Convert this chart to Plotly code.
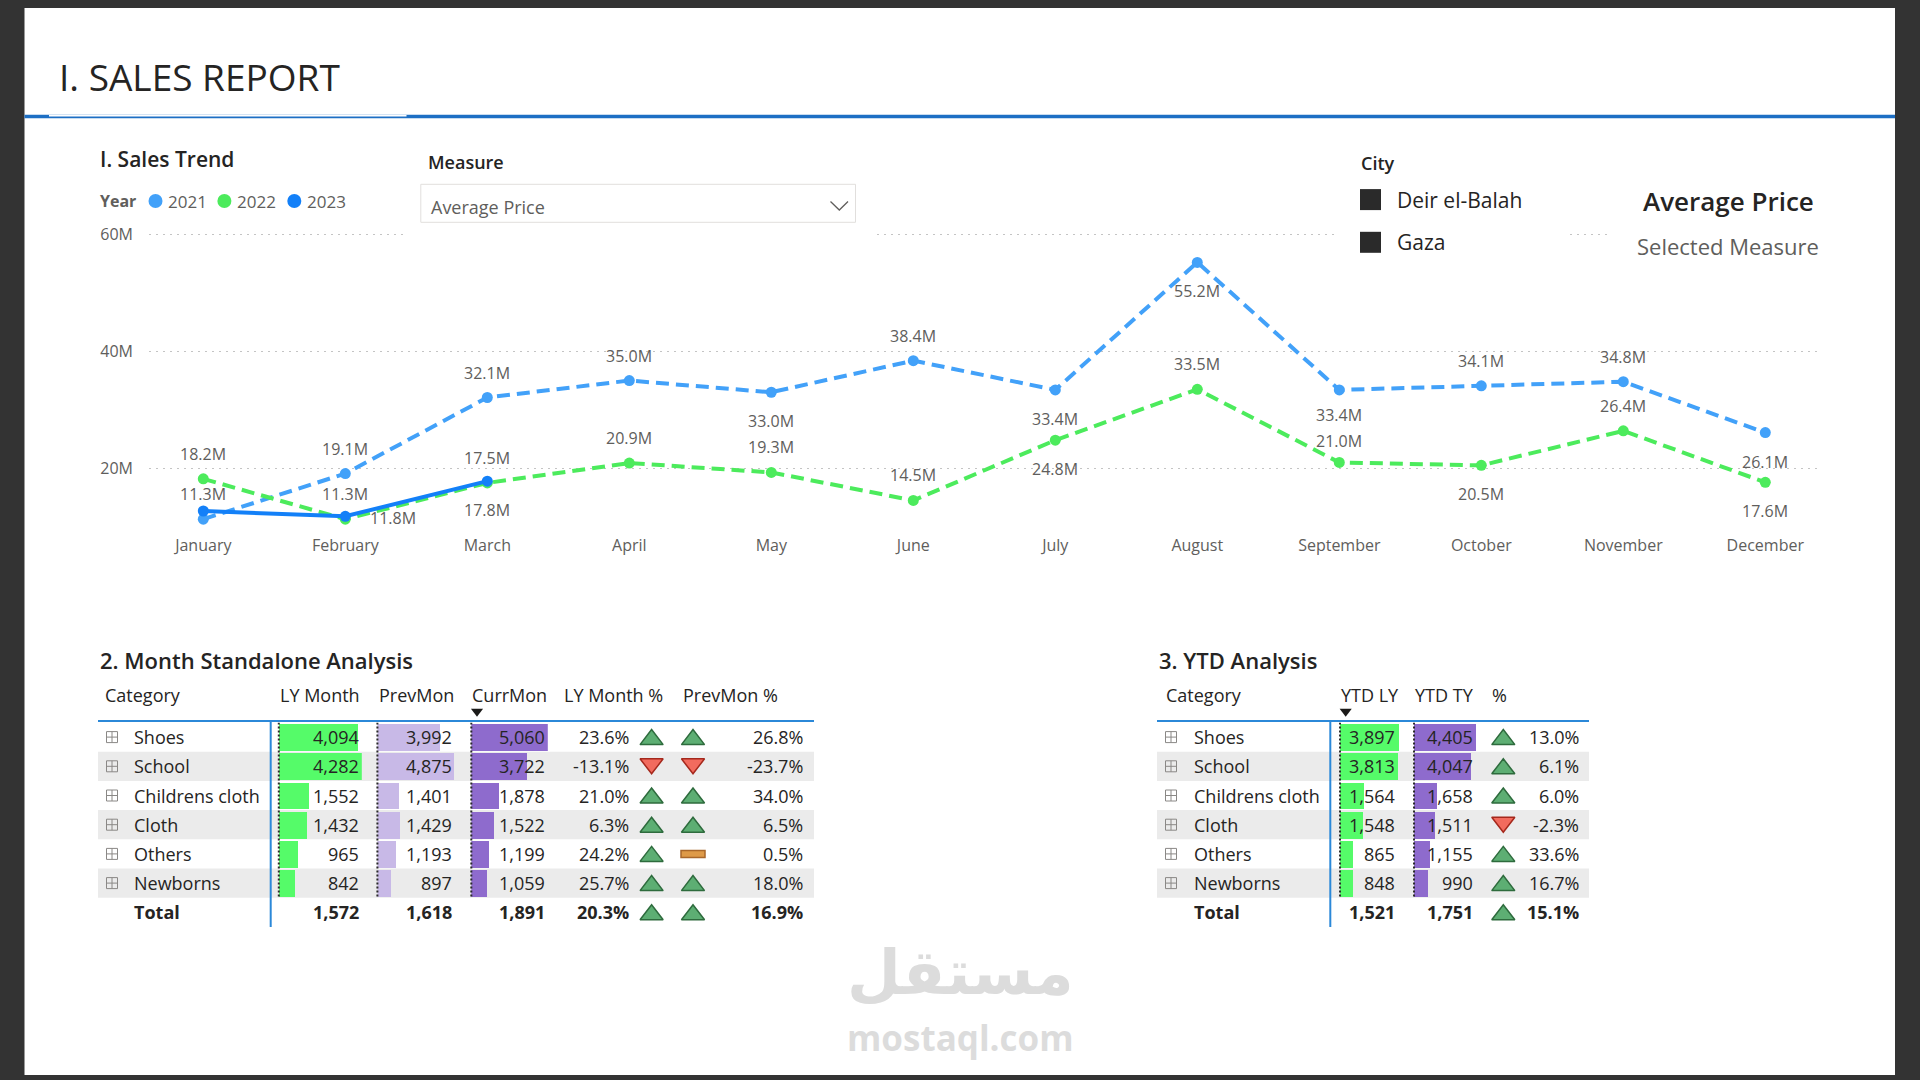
import plotly.graph_objects as go

W, H = 1920, 1080

# ---------------- data ----------------
months = ["January", "February", "March", "April", "May", "June",
          "July", "August", "September", "October", "November", "December"]
years = ["2021", "2022", "2023"]
avg_price_2021 = [11.3, 19.1, 32.1, 35.0, 33.0, 38.4, 33.4, 55.2, 33.4, 34.1, 34.8, 26.1]
avg_price_2022 = [18.2, 11.3, 17.5, 20.9, 19.3, 14.5, 24.8, 33.5, 21.0, 20.5, 26.4, 17.6]
avg_price_2023 = [12.7, 11.8, 17.8]
y_tick_vals = [20, 40, 60]
y_tick_text = ["20M", "40M", "60M"]

cities = ["Deir el-Balah", "Gaza"]
selected_measure = "Average Price"

categories = ["Shoes", "School", "Childrens cloth", "Cloth", "Others", "Newborns"]
ly_month = [4094, 4282, 1552, 1432, 965, 842]
prev_mon = [3992, 4875, 1401, 1429, 1193, 897]
curr_mon = [5060, 3722, 1878, 1522, 1199, 1059]
ly_month_pct = [23.6, -13.1, 21.0, 6.3, 24.2, 25.7]
prev_mon_pct = [26.8, -23.7, 34.0, 6.5, 0.5, 18.0]
ly_month_total = 1572
prev_mon_total = 1618
curr_mon_total = 1891
ly_month_pct_total = 20.3
prev_mon_pct_total = 16.9

ytd_ly = [3897, 3813, 1564, 1548, 865, 848]
ytd_ty = [4405, 4047, 1658, 1511, 1155, 990]
ytd_pct = [13.0, 6.1, 6.0, -2.3, 33.6, 16.7]
ytd_ly_total = 1521
ytd_ty_total = 1751
ytd_pct_total = 15.1

# ---------------- styles ----------------
FONT = "Open Sans"
DARK = "#252423"
GRAY = "#605E5C"
C21, C22, C23 = "#42A1F9", "#4CEB5C", "#1380F8"
GREEN_BAR, LPURP_BAR, PURP_BAR = "#55FB69", "#C8B9E7", "#8E6BCD"
BAND = "#EBEBEB"
BLUE_LINE = "#2B88D8"

# label placement: t = above, b = below, r = right
label_pos_2021 = ["t", "t", "t", "t", "b", "t", "b", "b", "b", "t", "t", "b"]
label_pos_2022 = ["t", "t", "t", "t", "t", "t", "b", "t", "t", "b", "t", "b"]
label_pos_2023 = [None, "r", "b"]
LABEL_SHIFT = {"t": (0, 25), "b": (0, -29), "r": (48, -2)}


def fx(px):
    return px / W


def fy(py):
    return 1 - py / H


# chart pixel mapping (layout)
CH_X0, CH_X1, CH_TOP, CH_BOT = 149, 1818, 200, 530
X_FIRST, X_STEP = 203.3, 142.0
Y_ZERO, Y_PER_M = 585.3, 5.85


def cx(px):
    return (px - X_FIRST) / X_STEP


def cy(py):
    return (Y_ZERO - py) / Y_PER_M


# table layout
ROW_TOP, ROW_H = 722.5, 29.2
N_ROWS = 7

fig = go.Figure()
annotations = []
shapes = []


def text(px, py, s, size, color=DARK, anchor="left", weight=None, family=FONT):
    f = dict(size=size, color=color, family=family)
    if weight:
        f["weight"] = weight
    annotations.append(dict(x=fx(px), y=fy(py), xref="paper", yref="paper", text=s,
                            showarrow=False, xanchor=anchor, yanchor="middle", font=f))


def cell(px, row, s, anchor="right", bold=False, size=18, color=DARK):
    f = dict(size=size, color=color, family=FONT)
    if bold:
        f["weight"] = "bold"
    annotations.append(dict(x=fx(px), y=row, xref="paper", yref="y2", text=s,
                            showarrow=False, xanchor=anchor, yanchor="middle", font=f))


def rect(x0, y0, x1, y1, fill, line=None, lw=0, layer="below"):
    shapes.append(dict(type="rect", xref="paper", yref="paper", x0=fx(x0), x1=fx(x1),
                       y0=fy(y1), y1=fy(y0), fillcolor=fill,
                       line=dict(width=lw, color=line or fill), layer=layer))


def hline(x0, x1, y, color, w, layer="above", dash="solid"):
    shapes.append(dict(type="line", xref="paper", yref="paper", x0=fx(x0), x1=fx(x1),
                       y0=fy(y), y1=fy(y), line=dict(color=color, width=w, dash=dash), layer=layer))


def vline(x, y0, y1, color, w, layer="above", dash="solid"):
    shapes.append(dict(type="line", xref="paper", yref="paper", x0=fx(x), x1=fx(x),
                       y0=fy(y0), y1=fy(y1), line=dict(color=color, width=w, dash=dash), layer=layer))


# ---------------- background / header ----------------
rect(24.5, 8, 1895, 1075, "#FFFFFF")
rect(24.5, 114.7, 1895, 118.2, "#1D6FC4", layer="above")
rect(49, 114.7, 406.5, 116.6, "#FFFFFF", layer="above")
text(57, 76, "I. SALES REPORT", 37, DARK)

# ---------------- line chart ----------------
series = [(years[0], avg_price_2021, C21, "13px,7px", label_pos_2021),
          (years[1], avg_price_2022, C22, "13px,7px", label_pos_2022),
          (years[2], avg_price_2023, C23, "solid", label_pos_2023)]
for name, vals, col, dash, pos in series:
    fig.add_trace(go.Scatter(x=months[:len(vals)], y=vals, mode="lines+markers", name=name,
                             line=dict(color=col, width=4, dash=dash),
                             marker=dict(size=11, color=col),
                             xaxis="x", yaxis="y", hoverinfo="skip", cliponaxis=False))
    for i, (v, p) in enumerate(zip(vals, pos)):
        if p is None:
            continue
        dx, dy = LABEL_SHIFT[p]
        # September: the two labels sit stacked tightly between the lines
        if months[i] == "September":
            dy = dy + (-4 if p == "t" else 4)
        annotations.append(dict(x=months[i], y=v, xref="x", yref="y", text=f"{v:.1f}M",
                                showarrow=False, xshift=dx, yshift=dy, borderpad=0,
                                font=dict(size=16, color=GRAY, family=FONT)))

# masks hiding the gridline behind slicers/card (between gridlines and traces)
for (mx0, mx1) in [(403, 872), (1338, 1566), (1608, 1845)]:
    shapes.append(dict(type="rect", xref="x", yref="y", x0=cx(mx0), x1=cx(mx1),
                       y0=cy(250), y1=cy(150), fillcolor="#FFFFFF",
                       line=dict(width=0), layer="between"))

text(98, 159, "I. Sales Trend", 21, DARK, weight=600)
text(98, 201, "Year", 16, GRAY, weight="bold")
legend_dot_x = [155.5, 224.4, 294.3]
for yr, col, dxp in zip(years, [C21, C22, C23], legend_dot_x):
    fig.add_trace(go.Scatter(x=[dxp], y=[201], mode="markers", marker=dict(size=14, color=col),
                             xaxis="x8", yaxis="y8", hoverinfo="skip", cliponaxis=False))
    text(dxp + 10.5, 201, yr, 17, GRAY)

# Measure slicer
text(426, 162, "Measure", 18, DARK, weight=600)
rect(420.8, 184.3, 855.5, 222.3, "#FFFFFF", line="#E1DFDD", lw=1, layer="above")
text(428.5, 206.5, selected_measure, 18, GRAY)
shapes.append(dict(type="path", xref="paper", yref="paper",
                   path=f"M {fx(830.5)} {fy(201.5)} L {fx(839.3)} {fy(210)} L {fx(848)} {fy(201.5)}",
                   line=dict(color=GRAY, width=1.3), layer="above"))

# City slicer
text(1359, 162.7, "City", 18, DARK, weight=600)
for i, c in enumerate(cities):
    yy = 199.6 + i * 42.7
    fig.add_trace(go.Scatter(x=[1370.5], y=[yy], mode="markers",
                             marker=dict(size=21, symbol="square", color="#2A2A2A"),
                             xaxis="x8", yaxis="y8", hoverinfo="skip", cliponaxis=False))
    text(1394.5, yy, c, 21, DARK)

# Card
text(1728, 200.7, selected_measure, 26, DARK, anchor="center", weight=600)
text(1728, 246, "Selected Measure", 22, GRAY, anchor="center")

# ---------------- tables ----------------
# bands
for r in (1, 3, 5):
    for (bx0, bx1) in [(98, 814), (1157, 1589)]:
        shapes.append(dict(type="rect", xref="paper", yref="y2", x0=fx(bx0), x1=fx(bx1),
                           y0=r - 0.5, y1=r + 0.5, fillcolor=BAND, line=dict(width=0), layer="below"))

# header lines
hline(98, 814, 721, BLUE_LINE, 2)
hline(1157, 1589, 721, BLUE_LINE, 2)
vline(270.7, 721, 927, BLUE_LINE, 2)
vline(1330.3, 721, 927, BLUE_LINE, 2)

text(98, 660, "2. Month Standalone Analysis", 22, DARK, weight=600)
text(1157, 660, "3. YTD Analysis", 22, DARK, weight=600)

t1_headers = [("Category", 103), ("LY Month", 278), ("PrevMon", 376.5), ("CurrMon", 470),
              ("LY Month %", 561.5), ("PrevMon %", 680.5)]
t2_headers = [("Category", 1164), ("YTD LY", 1338.5), ("YTD TY", 1412.5), ("%", 1489.5)]
for h, px in t1_headers + t2_headers:
    text(px, 695, h, 18, DARK)

# sort arrows
fig.add_trace(go.Scatter(x=[477, 1345.7], y=[711.5, 711.5], mode="markers",
                         marker=dict(size=10.5, symbol="triangle-down", color="#1B1A19"),
                         xaxis="x8", yaxis="y8", hoverinfo="skip", cliponaxis=False))

# plus icons and category labels
rows = list(range(len(categories)))
fig.add_trace(go.Scatter(x=[112] * len(rows) + [1171] * len(rows), y=rows + rows, mode="markers",
                         marker=dict(size=11, symbol="square-cross-open", color="#8A8886",
                                     line=dict(width=1)),
                         xaxis="x7", yaxis="y2", hoverinfo="skip", cliponaxis=False))
for r, c in enumerate(categories):
    cell(131.5, r, c, anchor="left")
    cell(1191.5, r, c, anchor="left")
cell(131.5, 6, "Total", anchor="left", bold=True)
cell(1191.5, 6, "Total", anchor="left", bold=True)

# data bars (own axes)
bar_cols = [
    ("x2", ly_month, ly_month_total, GREEN_BAR, 278.8, 83.0, 361.3),
    ("x3", prev_mon, prev_mon_total, LPURP_BAR, 377.4, 77.4, 454.3),
    ("x4", curr_mon, curr_mon_total, PURP_BAR, 471.3, 76.5, 546.8),
    ("x5", ytd_ly, ytd_ly_total, GREEN_BAR, 1340.0, 59.0, 1397.3),
    ("x6", ytd_ty, ytd_ty_total, PURP_BAR, 1414.0, 62.0, 1475.0),
]
axis_layout = {}
for ax, vals, tot, col, x0, wpx, tx in bar_cols:
    fig.add_trace(go.Bar(x=vals, y=list(range(len(vals))), orientation="h", width=0.92,
                         marker=dict(color=col, line=dict(width=0)),
                         xaxis=ax, yaxis="y2", hoverinfo="skip"))
    axis_layout["xaxis" + ax[1:]] = dict(domain=[fx(x0), fx(x0 + wpx)], range=[0, max(vals)],
                                         visible=False, anchor="y2", fixedrange=True)
    shapes.append(dict(type="line", xref="paper", yref="y2", x0=fx(x0), x1=fx(x0),
                       y0=-0.5, y1=len(vals) - 0.5, line=dict(color="#2B2B2B", width=2, dash="2px,2px"),
                       layer="above"))
    for r, v in enumerate(vals):
        cell(tx, r, f"{v:,}")
    cell(tx, 6, f"{tot:,}", bold=True)

# percentage columns with KPI icons
pct_cols = [
    (ly_month_pct, ly_month_pct_total, 631.3, 651.6),
    (prev_mon_pct, prev_mon_pct_total, 805.0, 693.0),
    (ytd_pct, ytd_pct_total, 1580.7, 1503.3),
]
up_x, up_y, dn_x, dn_y = [], [], [], []
for pcts, tot, tx, icx in pct_cols:
    allp = pcts + [tot]
    for r, p in enumerate(allp):
        cell(tx, r, f"{p:.1f}%", bold=(r == len(pcts)))
        if p >= 1:
            up_x.append(icx)
            up_y.append(r + 2.5 / ROW_H)
        elif p <= -1:
            dn_x.append(icx)
            dn_y.append(r - 2.5 / ROW_H)
        else:
            shapes.append(dict(type="rect", xref="paper", yref="y2", x0=fx(icx - 12), x1=fx(icx + 12),
                               y0=r - 3.5 / ROW_H, y1=r + 3.5 / ROW_H, fillcolor="#DE9A48",
                               line=dict(color="#A9672A", width=1.5), layer="above"))
fig.add_trace(go.Scatter(x=up_x, y=up_y, mode="markers",
                         marker=dict(size=20, symbol="triangle-up", color="#5DAE73",
                                     line=dict(color="#2E6B3D", width=1.5)),
                         xaxis="x7", yaxis="y2", hoverinfo="skip", cliponaxis=False))
fig.add_trace(go.Scatter(x=dn_x, y=dn_y, mode="markers",
                         marker=dict(size=20, symbol="triangle-down", color="#F26B5E",
                                     line=dict(color="#A5281C", width=1.5)),
                         xaxis="x7", yaxis="y2", hoverinfo="skip", cliponaxis=False))

# watermark
text(960, 972, "مستقل", 62, "#DCDCDC", anchor="center", weight="bold", family="DejaVu Sans")
text(960, 1037, "mostaql.com", 35, "#DCDCDC", anchor="center", weight="bold")

# ---------------- layout ----------------
layout = dict(
    width=W, height=H, margin=dict(l=0, r=0, t=0, b=0, pad=0),
    paper_bgcolor="#333333", plot_bgcolor="rgba(0,0,0,0)",
    font=dict(family=FONT, color=DARK), showlegend=False, bargap=0,
    xaxis=dict(domain=[fx(CH_X0), fx(CH_X1)], type="category", categoryorder="array",
               categoryarray=months, range=[cx(CH_X0), cx(CH_X1)], showgrid=False,
               zeroline=False, showline=False, ticks="", tickfont=dict(size=16, color=GRAY),
               ticklabelstandoff=4, anchor="y", fixedrange=True),
    yaxis=dict(domain=[fy(CH_BOT), fy(CH_TOP)], range=[cy(CH_BOT), cy(CH_TOP)],
               tickvals=y_tick_vals, ticktext=y_tick_text, showgrid=True, gridcolor="#C4C4C4",
               griddash="2px,5px", gridwidth=1.3, zeroline=False, showline=False, ticks="",
               tickfont=dict(size=16, color=GRAY), ticklabelstandoff=15, anchor="x", fixedrange=True),
    yaxis2=dict(domain=[fy(ROW_TOP + N_ROWS * ROW_H), fy(ROW_TOP)], range=[N_ROWS - 0.5, -0.5],
                visible=False, anchor="x7", fixedrange=True),
    xaxis7=dict(domain=[0, 1], range=[0, W], visible=False, anchor="y2", fixedrange=True),
    xaxis8=dict(domain=[0, 1], range=[0, W], visible=False, anchor="y8", fixedrange=True),
    yaxis8=dict(domain=[0, 1], range=[H, 0], visible=False, anchor="x8", fixedrange=True),
    annotations=annotations, shapes=shapes,
)
layout.update(axis_layout)
fig.update_layout(**layout)
fig.write_html("out.html")
